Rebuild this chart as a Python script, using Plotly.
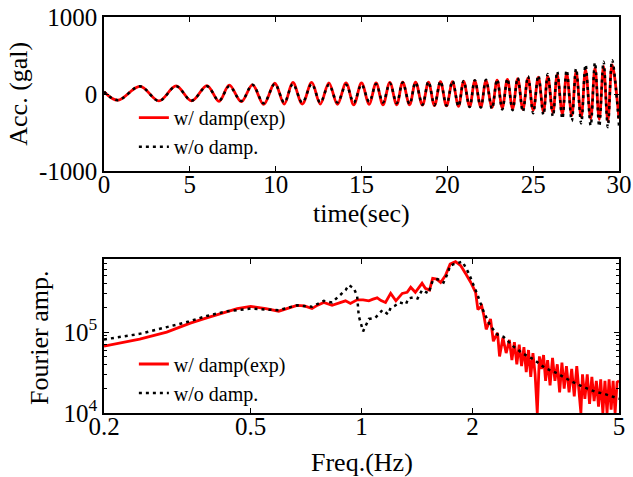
import plotly.graph_objects as go

# ---------------- Data: time history (extrema) ----------------
time_s = [0.0, 0.8, 2.1, 3.2, 4.2, 5.1, 6.0, 6.7, 7.3, 8.0, 8.65, 9.3, 9.95, 10.5, 11.0, 11.55,
          12.1, 12.6, 13.1, 13.6, 14.1, 14.55, 15.0, 15.45, 15.85, 16.25, 16.65, 17.05, 17.4,
          17.8, 18.15, 18.55, 18.9, 19.25, 19.6, 19.95, 20.3, 20.65, 20.95, 21.3, 21.6, 21.95,
          22.25, 22.6, 22.9, 23.2, 23.5, 23.8, 24.1, 24.4, 24.7, 25.0, 25.3, 25.6, 25.85, 26.15,
          26.4, 26.7, 26.95, 27.25, 27.5, 27.8, 28.05, 28.35, 28.6, 28.85, 29.1, 29.35, 29.6, 30.0]
acc_exp = [30, -80, 100, -90, 105, -90, 110, -95, 115, -100, 120, -135, 140, -130, 150, -130,
           150, -130, 145, -135, 145, -140, 145, -135, 145, -140, 150, -140, 155,
           -140, 155, -145, 155, -150, 160, -155, 160, -160, 165, -165, 170, -170,
           175, -175, 180, -180, 190, -190, 200, -200, 210, -210, 220, -230, 230, -240,
           250, -260, 270, -280, 290, -300, 320, -320, 340, -330, 360, -350, 380, -320]
acc_nodamp = [30, -80, 100, -90, 100, -85, 100, -85, 100, -90, 120, -120, 130, -110, 130, -110,
              130, -110, 120, -110, 120, -110, 120, -100, 130, -110, 140, -120, 150,
              -130, 150, -140, 160, -145, 165, -150, 170, -160, 170, -170, 180, -175,
              185, -190, 190, -200, 200, -210, 210, -230, 230, -250, 240, -270, 260, -290,
              290, -320, 310, -350, 330, -380, 380, -410, 410, -420, 420, -430, 440, -410]

# ---------------- Data: Fourier amplitude spectra ----------------
freq_exp = [0.2, 0.25, 0.296, 0.343, 0.38, 0.422, 0.46, 0.5, 0.55, 0.596, 0.63, 0.668, 0.70,
            0.734, 0.76, 0.79, 0.832, 0.87, 0.905, 0.933, 0.973, 1.01, 1.047, 1.075, 1.103,
            1.13, 1.162, 1.2, 1.24, 1.29, 1.33, 1.36, 1.40, 1.46, 1.49, 1.53, 1.56, 1.60, 1.64,
            1.69, 1.74, 1.80, 1.86, 1.92, 1.98, 2.04, 2.07, 2.12, 2.15, 2.18, 2.24, 2.28, 2.34,
            2.37, 2.42, 2.47, 2.52, 2.56, 2.60, 2.64, 2.68, 2.72, 2.76, 2.80, 2.84, 2.88, 2.92,
            2.96, 3.00, 3.04, 3.08, 3.12, 3.16, 3.20, 3.25, 3.30, 3.35, 3.40, 3.45, 3.50, 3.55,
            3.60, 3.66, 3.72, 3.78, 3.84, 3.90, 3.94, 3.98, 4.04, 4.10, 4.16, 4.22, 4.28, 4.34,
            4.40, 4.46, 4.52, 4.58, 4.64, 4.70, 4.76, 4.82, 4.88, 4.94, 5.0]
amp_exp = [6.7e4, 8.2e4, 1.0e5, 1.29e5, 1.5e5, 1.74e5, 1.95e5, 2.07e5, 1.95e5, 1.81e5, 1.95e5,
           2.14e5, 2.1e5, 1.95e5, 2.15e5, 2.32e5, 2.14e5, 2.3e5, 2.43e5, 2.26e5, 2.5e5, 2.5e5,
           2.43e5, 2.55e5, 2.65e5, 2.45e5, 2.32e5, 3.0e5, 2.43e5, 3.0e5, 3.1e5, 3.57e5, 3.1e5,
           4.0e5, 3.47e5, 3.3e5, 4.6e5, 4.5e5, 4.1e5, 5.0e5, 6.9e5, 7.4e5, 6.6e5, 5.2e5, 4.1e5,
           3.1e5, 1.9e5, 2.1e5, 1.58e5, 1.08e5, 1.45e5, 7.7e4, 9.8e4, 5.0e4, 8.5e4, 5.5e4,
           8.0e4, 4.5e4, 7.5e4, 4.0e4, 7.0e4, 3.8e4, 6.5e4, 3.2e4, 6.0e4, 2.8e4, 5.5e4, 3.0e4,
           1.0e4, 5.0e4, 3.5e4, 5.2e4, 2.5e4, 4.5e4, 2.2e4, 4.8e4, 2.5e4, 4.0e4, 1.8e4, 4.2e4,
           2.0e4, 3.8e4, 1.8e4, 3.5e4, 1.6e4, 3.8e4, 1.5e4, 1.0e4, 3.0e4, 1.5e4, 3.0e4, 1.3e4,
           2.8e4, 1.4e4, 2.5e4, 1.2e4, 2.6e4, 1.0e4, 2.5e4, 1.0e4, 2.6e4, 1.1e4, 2.5e4, 1.0e4,
           2.4e4, 2.5e4]
freq_nodamp = [0.2, 0.25, 0.296, 0.34, 0.38, 0.43, 0.5, 0.55, 0.596, 0.668, 0.734, 0.79, 0.832,
               0.87, 0.905, 0.924, 0.953, 0.973, 0.983, 1.01, 1.047, 1.09, 1.14, 1.18, 1.2,
               1.23, 1.27, 1.32, 1.34, 1.39, 1.42, 1.46, 1.52, 1.56, 1.61, 1.67, 1.71, 1.74,
               1.78, 1.88, 1.92, 1.96, 2.0, 2.06, 2.15, 2.24, 2.34, 2.43, 2.58, 2.73, 2.93,
               3.15, 3.39, 3.72, 4.0, 4.3, 4.57, 5.0]
amp_nodamp = [8.1e4, 9.5e4, 1.15e5, 1.35e5, 1.58e5, 1.8e5, 1.95e5, 1.9e5, 1.86e5, 2.14e5,
              2.05e5, 2.43e5, 2.32e5, 2.8e5, 3.3e5, 3.8e5, 3.47e5, 2.8e5, 1.58e5, 1.02e5,
              1.45e5, 1.5e5, 1.87e5, 1.66e5, 2.0e5, 2.1e5, 2.32e5, 2.2e5, 2.6e5, 2.7e5, 2.6e5,
              3.3e5, 3.0e5, 4.3e5, 4.5e5, 4.1e5, 5.2e5, 6.6e5, 6.9e5, 7.4e5, 6.2e5, 5.2e5,
              4.1e5, 2.96e5, 1.74e5, 1.18e5, 9.3e4, 8.7e4, 6.7e4, 5.5e4, 4.6e4, 3.6e4, 3.1e4,
              2.45e4, 2.1e4, 1.84e4, 1.72e4, 1.5e4]

time_ticks = [0, 5, 10, 15, 20, 25, 30]
acc_ticks = [-1000, 0, 1000]
acc_ticktext = ["-1000", "0", "1000"]
freq_ticks = [0.2, 0.5, 1, 2, 5]
freq_ticktext = ["0.2", "0.5", "1", "2", "5"]
amp_ticks = [1e4, 1e5]
amp_ticktext = ["10<sup>4</sup>", "10<sup>5</sup>"]
amp_minor = [2e4, 3e4, 4e4, 5e4, 6e4, 7e4, 8e4, 9e4, 2e5, 3e5, 4e5, 5e5, 6e5, 7e5, 8e5]

names = ["w/ damp(exp)", "w/o damp."]
RED = "#ff0000"
FONT = "Liberation Serif"

fig = go.Figure()

fig.add_trace(go.Scatter(x=time_s, y=acc_exp, mode="lines", name=names[0],
                         line=dict(color=RED, width=2.8, shape="spline", smoothing=1.0),
                         xaxis="x", yaxis="y", legend="legend"))
fig.add_trace(go.Scatter(x=time_s, y=acc_nodamp, mode="lines", name=names[1],
                         line=dict(color="black", width=2.5, dash="3px,4px", shape="spline", smoothing=1.0),
                         xaxis="x", yaxis="y", legend="legend"))
fig.add_trace(go.Scatter(x=freq_exp, y=amp_exp, mode="lines", name=names[0],
                         line=dict(color=RED, width=2.8),
                         xaxis="x2", yaxis="y2", legend="legend2"))
fig.add_trace(go.Scatter(x=freq_nodamp, y=amp_nodamp, mode="lines", name=names[1],
                         line=dict(color="black", width=2.5, dash="3px,4px"),
                         xaxis="x2", yaxis="y2", legend="legend2"))

axis_common = dict(showline=True, linecolor="black", linewidth=1.5, mirror="ticks",
                   ticks="inside", ticklen=5, tickcolor="black", showgrid=False,
                   zeroline=False, automargin=False,
                   tickfont=dict(family=FONT, size=25, color="black"))

fig.update_layout(
    width=633, height=477,
    margin=dict(l=104, r=14, t=17, b=64),
    paper_bgcolor="white", plot_bgcolor="white",
    font=dict(family=FONT, size=20, color="black"),
    showlegend=True,
    xaxis=dict(domain=[0, 1], anchor="y", range=[0, 30], tickvals=time_ticks, **axis_common),
    yaxis=dict(domain=[0.611, 1], anchor="x", range=[-1000, 1000], tickvals=acc_ticks,
               ticktext=acc_ticktext, **axis_common),
    xaxis2=dict(domain=[0, 1], anchor="y2", type="log",
                range=[-0.69897, 0.69897], tickvals=freq_ticks, ticktext=freq_ticktext,
                **axis_common),
    yaxis2=dict(domain=[0, 0.389], anchor="x2", type="log", range=[4, 5.903],
                tickvals=amp_ticks, ticktext=amp_ticktext,
                minor=dict(tickvals=amp_minor, ticks="inside", ticklen=3,
                           tickcolor="black", showgrid=False),
                **axis_common),
    legend=dict(x=0.058, y=0.795, xanchor="left", yanchor="top", bgcolor="rgba(0,0,0,0)",
                font=dict(family=FONT, size=20, color="black"), borderwidth=0),
    legend2=dict(x=0.058, y=0.173, xanchor="left", yanchor="top", bgcolor="rgba(0,0,0,0)",
                 font=dict(family=FONT, size=20, color="black"), borderwidth=0),
    annotations=[
        dict(text="Acc. (gal)", xref="paper", yref="paper", x=-0.166, y=0.805,
             xanchor="center", yanchor="middle", textangle=-90, showarrow=False,
             font=dict(family=FONT, size=26)),
        dict(text="time(sec)", xref="paper", yref="paper", x=0.5, y=0.505,
             xanchor="center", yanchor="middle", showarrow=False,
             font=dict(family=FONT, size=26)),
        dict(text="Fourier amp.", xref="paper", yref="paper", x=-0.124, y=0.19,
             xanchor="center", yanchor="middle", textangle=-90, showarrow=False,
             font=dict(family=FONT, size=26)),
        dict(text="Freq.(Hz)", xref="paper", yref="paper", x=0.5, y=-0.124,
             xanchor="center", yanchor="middle", showarrow=False,
             font=dict(family=FONT, size=26)),
    ],
)

try:
    fig.update_xaxes(ticklabelstandoff=-10)
except Exception:
    pass

fig.write_html("out.html")
